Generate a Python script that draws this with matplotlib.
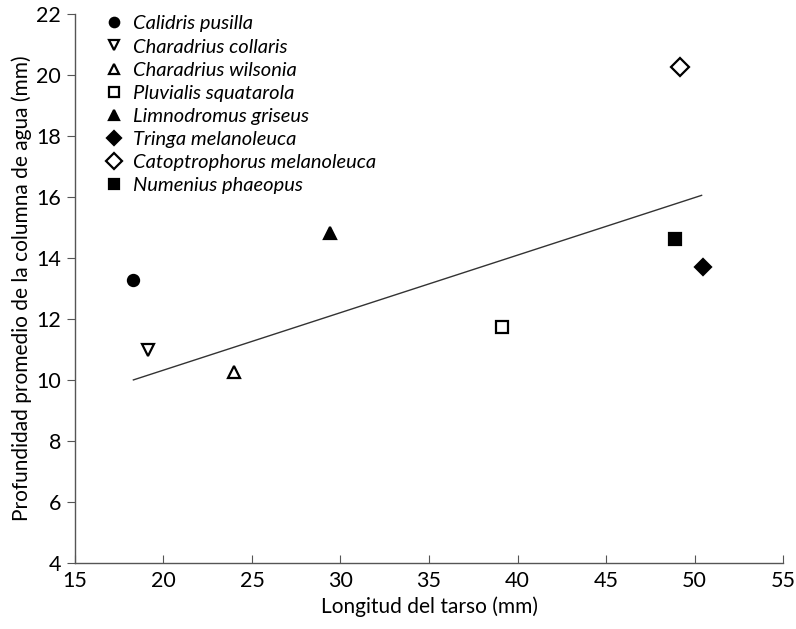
import numpy as np
import matplotlib.pyplot as plt

plt.rcParams['font.family'] = ['Lato', 'DejaVu Sans']

# datos
especies = ['Calidris pusilla', 'Charadrius collaris', 'Charadrius wilsonia',
            'Pluvialis squatarola', 'Limnodromus griseus', 'Tringa melanoleuca',
            'Catoptrophorus melanoleuca', 'Numenius phaeopus']
tarso = [18.3, 19.1, 24.0, 39.1, 29.4, 50.5, 49.2, 48.9]
profundidad = [13.27, 10.98, 10.27, 11.74, 14.81, 13.70, 20.25, 14.62]
marcadores = ['o', 'v', '^', 's', '^', 'D', 'D', 's']
relleno = [True, False, False, False, True, True, False, True]
tamanos = [8, 9, 9, 8, 9, 8, 9.5, 8]

# recta de tendencia
tend_x = [18.3, 50.4]
tend_y = [10.0, 16.05]

fig = plt.figure(figsize=(7.96, 6.29), dpi=100)
ax = fig.add_axes([0.0942, 0.105, 0.8895, 0.873])

ax.plot(tend_x, tend_y, color='#333333', lw=1.0, zorder=2)

for i in range(len(especies)):
    ax.plot(tarso[i], profundidad[i], linestyle='none', marker=marcadores[i],
            markersize=tamanos[i], markeredgewidth=1.6, markeredgecolor='black',
            markerfacecolor='black' if relleno[i] else 'white',
            label=especies[i], zorder=3)

ax.set_xlim(15, 55)
ax.set_ylim(4, 22)
ax.set_xticks(np.arange(15, 56, 5))
ax.set_yticks(np.arange(4, 23, 2))

for s in ['top', 'right']:
    ax.spines[s].set_visible(False)
for s in ['left', 'bottom']:
    ax.spines[s].set_color('#555555')
    ax.spines[s].set_linewidth(1.0)

ax.tick_params(axis='x', direction='in', length=6, color='#555555', labelsize=15.5, pad=6)
ax.tick_params(axis='y', direction='out', length=6, color='#555555', labelsize=15.5, pad=4)

ax.set_xlabel('Longitud del tarso (mm)', fontsize=15, labelpad=4)
ax.set_ylabel('Profundidad promedio de la columna de agua (mm)', fontsize=15, labelpad=3)

leg = ax.legend(loc='upper left', bbox_to_anchor=(0.03, 1.012), frameon=False,
                handlelength=1.0, handletextpad=0.45, markerscale=0.85,
                labelspacing=0.3, borderaxespad=0,
                prop={'family': ['Lato', 'DejaVu Sans'], 'style': 'italic', 'size': 14.5})

fig.savefig('out.png', dpi=100)
